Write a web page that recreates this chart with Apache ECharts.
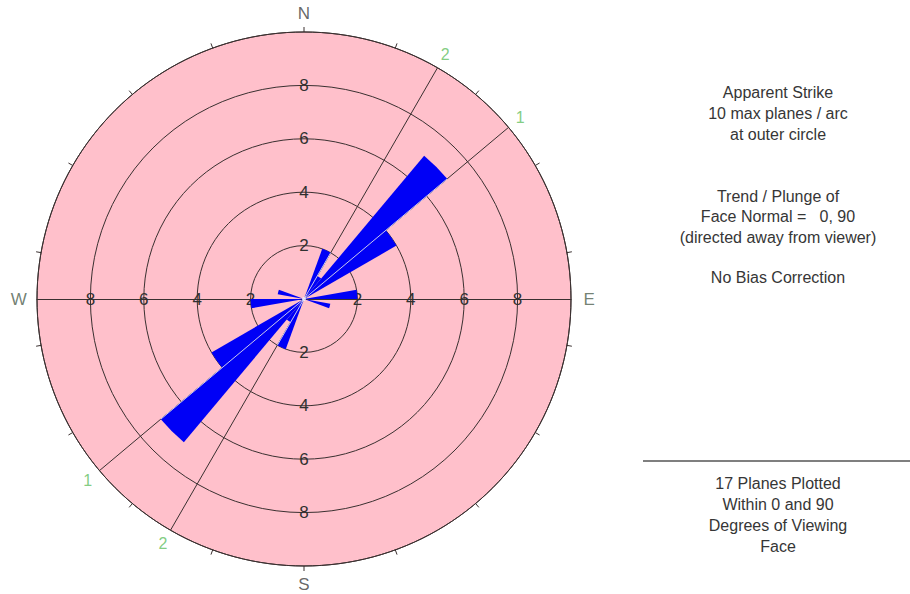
<!DOCTYPE html>
<html>
<head>
<meta charset="utf-8">
<title>Apparent Strike rose</title>
<script src="https://cdn.jsdelivr.net/npm/echarts@6/dist/echarts.min.js"></script>
<style>
  html, body { margin: 0; padding: 0; background: #ffffff; }
  #chart { width: 910px; height: 594px; }
</style>
</head>
<body>
<div id="chart"></div>
<script>
// Strike bins (start of each 10° arc) holding planes, and plane counts per bin
const binStarts = [20, 30, 40, 50, 80, 100];
const planeCounts = [2, 1, 7, 4, 2, 1];

// Joint set traces: label and strike (degrees)
const setNames = ['1', '2'];
const setStrikes = [50, 30];

// Compass directions and their bearings
const compassNames = ['N', 'E', 'S', 'W'];
const compassAngles = [0, 90, 180, 270];

// Right-hand annotation blocks
const infoLines = [
  'Apparent Strike',
  '10 max planes / arc',
  'at outer circle',
  'Trend / Plunge of',
  'Face Normal =   0, 90',
  '(directed away from viewer)',
  'No Bias Correction'
];
const footerLines = [
  '17 Planes Plotted',
  'Within 0 and 90',
  'Degrees of Viewing',
  'Face'
];

// Scale: rings every 2 planes, outer circle at 10
const ringMax = 10;
const ringStep = 2;
const binWidth = 10;

// ---- derived tables for the library ----
const binCount = 360 / binWidth;
const binLabels = [];
const roseValues = [];
for (let i = 0; i < binCount; i++) {
  binLabels.push(String(i * binWidth));
  roseValues.push(0);
}
// strikes are bidirectional: each count is drawn at θ and θ+180
binStarts.forEach(function (b, k) {
  roseValues[b / binWidth] = planeCounts[k];
  roseValues[((b + 180) % 360) / binWidth] = planeCounts[k];
});

const CENTER = [304, 299];
const RADIUS = 267;
const LINE = '#3a3030';
const PINK = '#ffc0cb';
const FONT = '"Liberation Sans", Arial, sans-serif';
const solidLine = { color: LINE, width: 1, type: 'solid', opacity: 1 };

const ringLabel = {
  show: true,
  showMinLabel: false,
  showMaxLabel: false,
  margin: 0,
  align: 'center',
  verticalAlign: 'middle',
  color: '#303030',
  fontSize: 17,
  fontFamily: FONT
};

// polar 0 = rose (north), 1..3 = ring labels toward E, W, S, 4 = value-angle overlay + disc fill
const starts = [90, 0, 180, 270];
const polar = [];
const angleAxis = [];
const radiusAxis = [];
for (let p = 0; p < 5; p++) {
  polar.push({ center: CENTER, radius: RADIUS });
}
angleAxis.push({
  polarIndex: 0,
  type: 'category',
  data: binLabels,
  startAngle: 90,
  clockwise: true,
  boundaryGap: true,
  axisLine: { show: true, lineStyle: solidLine },
  axisTick: { show: true, length: 5, lineStyle: solidLine },
  axisLabel: { show: false },
  splitLine: { show: false },
  splitArea: { show: false },
  z: 2
});
radiusAxis.push({
  polarIndex: 0,
  type: 'value',
  min: 0,
  max: ringMax,
  interval: ringStep,
  axisLine: { show: false },
  axisTick: { show: false },
  axisLabel: ringLabel,
  splitLine: { show: true, lineStyle: solidLine },
  splitArea: { show: false },
  z: 2
});
for (let p = 1; p < 4; p++) {
  const horizontal = starts[p] === 0 || starts[p] === 180;
  angleAxis.push({
    polarIndex: p,
    type: 'value',
    min: 0,
    max: 360,
    startAngle: starts[p],
    show: false
  });
  radiusAxis.push({
    polarIndex: p,
    type: 'value',
    min: 0,
    max: ringMax,
    interval: ringStep,
    axisLine: { show: horizontal, lineStyle: solidLine },
    axisTick: { show: false },
    axisLabel: ringLabel,
    splitLine: { show: false },
    splitArea: { show: false },
    z: 2
  });
}
angleAxis.push({
  polarIndex: 4,
  type: 'value',
  min: 0,
  max: 360,
  startAngle: 90,
  clockwise: true,
  show: false
});
// pink disc behind everything
radiusAxis.push({
  polarIndex: 4,
  type: 'value',
  min: 0,
  max: ringMax,
  interval: ringMax,
  axisLine: { show: false },
  axisTick: { show: false },
  axisLabel: { show: false },
  splitLine: { show: false },
  splitArea: { show: true, areaStyle: { color: [PINK, PINK] } },
  z: 0
});

const series = [];

// joint set traces (full diameters)
setStrikes.forEach(function (s) {
  series.push({
    type: 'line',
    coordinateSystem: 'polar',
    polarIndex: 4,
    data: [[ringMax, s], [ringMax, s + 180]],
    symbol: 'none',
    clip: false,
    silent: true,
    lineStyle: { color: LINE, width: 1 },
    z: 2
  });
});

// rose petals
series.push({
  type: 'bar',
  coordinateSystem: 'polar',
  polarIndex: 0,
  data: roseValues,
  barCategoryGap: '0%',
  barGap: '0%',
  itemStyle: { color: '#0000f6' },
  silent: true,
  z: 3
});

// traces show light where they cross the petals
setStrikes.forEach(function (s) {
  const a = roseValues[((s - binWidth) / binWidth + binCount) % binCount];
  const b = roseValues[(s / binWidth) % binCount];
  const reach = Math.max(a, b);
  if (reach > 0) {
    series.push({
      type: 'line',
      coordinateSystem: 'polar',
      polarIndex: 4,
      data: [[reach, s], [reach, s + 180]],
      symbol: 'none',
      clip: false,
      silent: true,
      lineStyle: { color: '#c4c4f4', width: 1 },
      z: 4
    });
  }
});

// set labels at both ends of each trace
const setLabelData = [];
setStrikes.forEach(function (s, k) {
  setLabelData.push({ value: [10.57, s], name: setNames[k] });
  setLabelData.push({ value: [10.57, s + 180], name: setNames[k] });
});
series.push({
  type: 'scatter',
  coordinateSystem: 'polar',
  polarIndex: 4,
  data: setLabelData,
  symbolSize: 0,
  clip: false,
  silent: true,
  label: {
    show: true,
    position: 'inside',
    formatter: '{b}',
    color: '#62c062',
    fontSize: 16,
    fontFamily: FONT
  },
  z: 5
});

// compass letters
series.push({
  type: 'scatter',
  coordinateSystem: 'polar',
  polarIndex: 4,
  data: compassNames.map(function (n, i) {
    const side = compassAngles[i] === 90 || compassAngles[i] === 270;
    return {
      value: [10.68, compassAngles[i]],
      name: n,
      label: { color: side ? '#4f5f4f' : '#404040' }
    };
  }),
  symbolSize: 0,
  clip: false,
  silent: true,
  label: {
    show: true,
    position: 'inside',
    formatter: '{b}',
    fontSize: 17,
    fontFamily: FONT
  },
  z: 5
});

// centre marker
series.push({
  type: 'scatter',
  coordinateSystem: 'polar',
  polarIndex: 4,
  data: [[0, 0]],
  symbolSize: 4,
  clip: false,
  silent: true,
  itemStyle: { color: '#f4f4ff' },
  z: 6
});

// annotation text on the right
const infoY = [92.5, 113, 134, 196, 216.5, 237, 277.5];
const footY = [483, 504, 525, 546];
const graphic = [];
function addText(t, y) {
  graphic.push({
    type: 'text',
    x: 778,
    y: y,
    style: {
      text: t,
      fill: '#363636',
      font: '16px ' + FONT,
      align: 'center',
      verticalAlign: 'middle',
      textAlign: 'center',
      textVerticalAlign: 'middle'
    },
    silent: true
  });
}
infoLines.forEach(function (t, i) { addText(t, infoY[i]); });
footerLines.forEach(function (t, i) { addText(t, footY[i]); });
graphic.push({
  type: 'line',
  shape: { x1: 643, y1: 461, x2: 910, y2: 461 },
  style: { stroke: '#555555', lineWidth: 1.5 },
  silent: true
});

const chart = echarts.init(document.getElementById('chart'), null, { renderer: 'svg' });
chart.setOption({
  animation: false,
  backgroundColor: '#ffffff',
  polar: polar,
  angleAxis: angleAxis,
  radiusAxis: radiusAxis,
  series: series,
  graphic: graphic
});
</script>
</body>
</html>
